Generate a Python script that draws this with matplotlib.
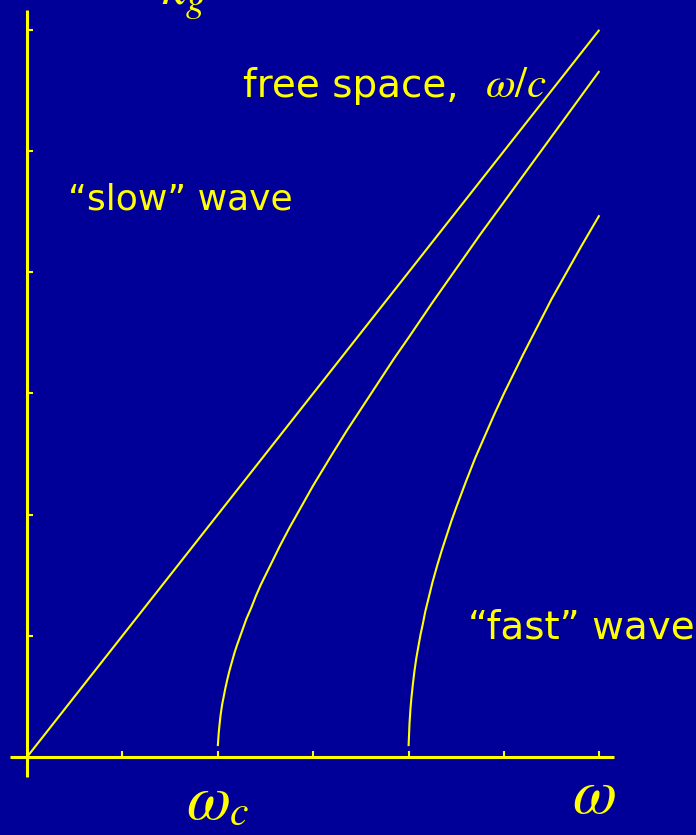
import matplotlib
matplotlib.use("Agg")
import matplotlib.pyplot as plt

plt.rcParams['mathtext.fontset'] = 'stix'

BG = '#000099'
FG = '#ffff00'

# Free-space light line k = omega / c
omega_free = [0.0, 6.0]
k_free = [0.0, 6.0]

# Guided mode with cutoff at omega_c
omega_mode1 = [2.0, 2.01, 2.02, 2.03, 2.045, 2.06, 2.08, 2.1, 2.125, 2.15, 2.175, 2.2,
               2.25, 2.3, 2.35, 2.4, 2.45, 2.5, 2.55, 2.6, 2.65, 2.75, 2.8, 2.9, 3.0,
               3.1, 3.2, 3.35, 3.5, 3.65, 3.75, 3.85, 4.0, 4.25, 4.5, 4.75, 5.0, 5.25,
               5.5, 5.75, 6.0]
k_mode1 = [0.09, 0.20, 0.28, 0.35, 0.43, 0.49, 0.57, 0.64, 0.72, 0.79, 0.86, 0.92,
           1.03, 1.14, 1.23, 1.33, 1.42, 1.50, 1.58, 1.66, 1.74, 1.89, 1.96, 2.10, 2.24,
           2.37, 2.50, 2.69, 2.87, 3.05, 3.17, 3.29, 3.46, 3.75, 4.03, 4.31, 4.58, 4.85,
           5.12, 5.39, 5.66]

# Higher-order mode with cutoff at 2 omega_c
omega_mode2 = [4.0, 4.01, 4.02, 4.03, 4.045, 4.06, 4.08, 4.1, 4.125, 4.15, 4.175, 4.2,
               4.25, 4.3, 4.35, 4.4, 4.45, 4.5, 4.6, 4.7, 4.8, 4.9, 5.0, 5.1, 5.2, 5.35,
               5.5, 5.65, 5.8, 6.0]
k_mode2 = [0.09, 0.28, 0.40, 0.49, 0.60, 0.70, 0.81, 0.90, 1.01, 1.10, 1.20, 1.28,
           1.44, 1.58, 1.71, 1.83, 1.95, 2.06, 2.27, 2.47, 2.65, 2.83, 3.00, 3.16, 3.32,
           3.55, 3.78, 3.99, 4.20, 4.47]

x_ticks = [1, 2, 3, 4, 5, 6]
y_ticks = [1, 2, 3, 4, 5, 6]

fig = plt.figure(figsize=(6.96, 8.35), dpi=100, facecolor=BG)
ax = fig.add_axes([0, 0, 1, 1], facecolor=BG)
ax.set_xlim(-0.283, 7.013)
ax.set_ylim(-0.6436, 6.246)

line_kw = dict(color=FG, lw=1.5, solid_capstyle='butt', solid_joinstyle='round')
ax.plot(omega_free, k_free, **line_kw)
ax.plot(omega_mode1, k_mode1, **line_kw)
ax.plot(omega_mode2, k_mode2, **line_kw)

# Axes drawn through the origin
for side in ('top', 'right'):
    ax.spines[side].set_visible(False)
ax.spines['left'].set_position(('data', 0))
ax.spines['bottom'].set_position(('data', 0))
ax.spines['left'].set_bounds(-0.165, 6.16)
ax.spines['bottom'].set_bounds(-0.178, 6.153)
for side in ('left', 'bottom'):
    ax.spines[side].set_color(FG)
    ax.spines[side].set_linewidth(2.2)
    ax.spines[side].set_capstyle('butt')
ax.set_xticks(x_ticks)
ax.set_yticks(y_ticks)
ax.tick_params(direction='in', length=4, width=1.5, color=FG,
               labelbottom=False, labelleft=False)

txt = dict(color=FG, fontfamily='DejaVu Sans', va='baseline', ha='left')
ax.text(2.264, 5.446, "free space,", fontsize=28, **txt)
ax.text(4.80, 5.446, r"$\omega/c$", color=FG, fontsize=31, va='baseline', ha='left')
ax.text(0.43, 4.52, "\u201cslow\u201d wave", fontsize=26, **txt)
ax.text(4.62, 0.98, "\u201cfast\u201d wave", fontsize=28, **txt)

ax.text(1.67, -0.512, r"$\omega$", color=FG, fontsize=46, va='baseline', ha='left')
ax.text(2.117, -0.565, r"$c$", color=FG, fontsize=30, va='baseline', ha='left')
ax.text(5.71, -0.462, r"$\omega$", color=FG, fontsize=46, va='baseline', ha='left')
ax.text(1.40, 6.205, r"$k_g$", color=FG, fontsize=40, va='baseline', ha='left')

fig.savefig('out.png', dpi=100, facecolor=BG)
